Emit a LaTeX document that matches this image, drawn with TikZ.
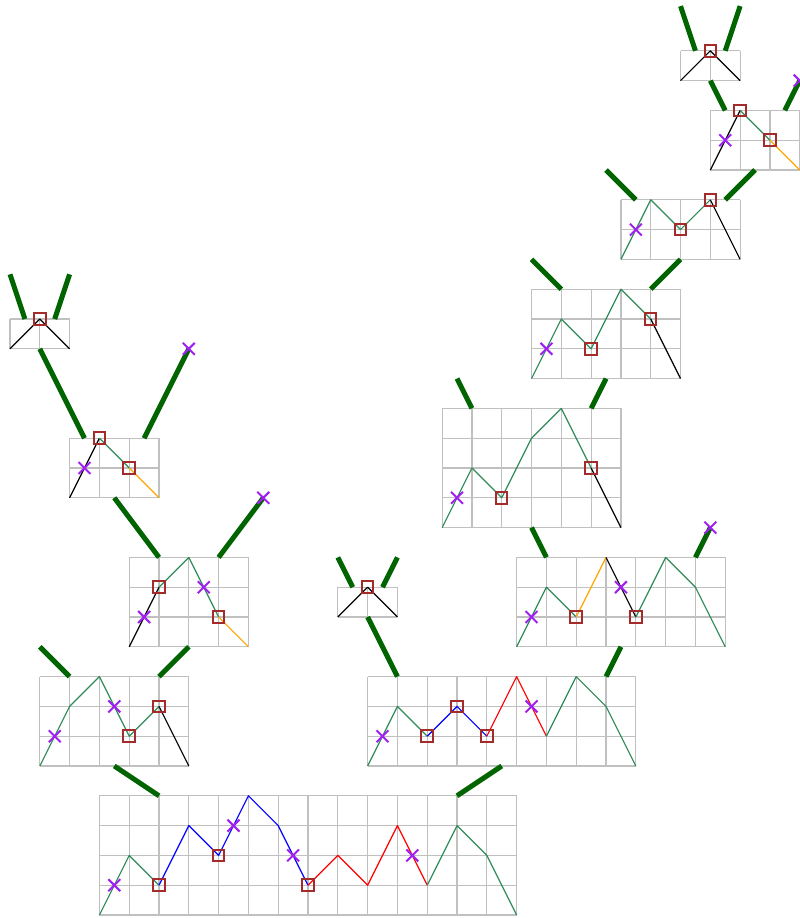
\documentclass[tikz,border=0pt]{standalone}
\definecolor{seag}{RGB}{46,139,87}
\definecolor{dkgreen}{RGB}{0,100,0}
\definecolor{brownbox}{RGB}{165,42,42}
\definecolor{purp}{RGB}{160,32,240}
\definecolor{gridgray}{RGB}{192,192,192}
\definecolor{orng}{RGB}{255,165,0}
\begin{document}
\begin{tikzpicture}[x=29.8pt,y=29.8pt,
  gridsty/.style={draw=gridgray,line width=1.2pt,step=1},
  pth/.style={line width=1.2pt,line join=round},
  gp/.style={pth,draw=seag},
  kp/.style={pth,draw=black},
  bp/.style={pth,draw=blue},
  rp/.style={pth,draw=red},
  op/.style={pth,draw=orng},
  treeedge/.style={draw=dkgreen,line width=5pt},
  boxsty/.style={draw=brownbox,line width=2pt,minimum size=11.5pt,inner sep=0pt},
  xmark/.pic={\draw[purp,line width=2pt] (-0.2,-0.2)--(0.2,0.2) (-0.2,0.2)--(0.2,-0.2);}
]
\useasboundingbox (-0.336,-0.1) rectangle (26.477,30.705);

% G1
\begin{scope}[shift={(3,0)}]
\draw[gridsty] (0,0) grid (14,4);
\draw[gp] (0,0)--(1,2)--(2,1);
\draw[bp] (2,1)--(3,3)--(4,2)--(5,4)--(6,3)--(7,1);
\draw[rp] (7,1)--(8,2)--(9,1)--(10,3)--(11,1);
\draw[gp] (11,1)--(12,3)--(13,2)--(14,0);
\end{scope}
% G2
\begin{scope}[shift={(1,5)}]
\draw[gridsty] (0,0) grid (5,3);
\draw[gp] (0,0)--(1,2)--(2,3)--(3,1)--(4,2);
\draw[kp] (4,2)--(5,0);
\end{scope}
% G3
\begin{scope}[shift={(12,5)}]
\draw[gridsty] (0,0) grid (9,3);
\draw[gp] (0,0)--(1,2)--(2,1);
\draw[bp] (2,1)--(3,2)--(4,1);
\draw[rp] (4,1)--(5,3)--(6,1);
\draw[gp] (6,1)--(7,3)--(8,2)--(9,0);
\end{scope}
% G4
\begin{scope}[shift={(11,10)}]
\draw[gridsty] (0,0) grid (2,1);
\draw[kp] (0,0)--(1,1)--(2,0);
\end{scope}
% G5
\begin{scope}[shift={(17,9)}]
\draw[gridsty] (0,0) grid (7,3);
\draw[gp] (0,0)--(1,2)--(2,1);
\draw[op] (2,1)--(3,3);
\draw[kp] (3,3)--(4,1);
\draw[gp] (4,1)--(5,3)--(6,2)--(7,0);
\end{scope}
% G6
\begin{scope}[shift={(14.5,13)}]
\draw[gridsty] (0,0) grid (6,4);
\draw[gp] (0,0)--(1,2)--(2,1)--(3,3)--(4,4)--(5,2);
\draw[kp] (5,2)--(6,0);
\end{scope}
% G7
\begin{scope}[shift={(17.5,18)}]
\draw[gridsty] (0,0) grid (5,3);
\draw[gp] (0,0)--(1,2)--(2,1)--(3,3)--(4,2);
\draw[kp] (4,2)--(5,0);
\end{scope}
% G8
\begin{scope}[shift={(20.5,22)}]
\draw[gridsty] (0,0) grid (4,2);
\draw[gp] (0,0)--(1,2)--(2,1)--(3,2);
\draw[kp] (3,2)--(4,0);
\end{scope}
% G9
\begin{scope}[shift={(23.5,25)}]
\draw[gridsty] (0,0) grid (3,2);
\draw[kp] (0,0)--(1,2);
\draw[gp] (1,2)--(2,1);
\draw[op] (2,1)--(3,0);
\end{scope}
% G10
\begin{scope}[shift={(22.5,28)}]
\draw[gridsty] (0,0) grid (2,1);
\draw[kp] (0,0)--(1,1)--(2,0);
\end{scope}
% G11
\begin{scope}[shift={(0,19)}]
\draw[gridsty] (0,0) grid (2,1);
\draw[kp] (0,0)--(1,1)--(2,0);
\end{scope}
% G12
\begin{scope}[shift={(2,14)}]
\draw[gridsty] (0,0) grid (3,2);
\draw[kp] (0,0)--(1,2);
\draw[gp] (1,2)--(2,1);
\draw[op] (2,1)--(3,0);
\end{scope}
% G13
\begin{scope}[shift={(4,9)}]
\draw[gridsty] (0,0) grid (4,3);
\draw[kp] (0,0)--(1,2);
\draw[gp] (1,2)--(2,3)--(3,1);
\draw[op] (3,1)--(4,0);
\end{scope}

% tree edges
\foreach \xa/\ya/\xb/\yb [count=\i] in {
  3.5/5/5/4, 16.5/5/15/4, 1/9/2/8, 6/9/5/8,
  12/10/13/8, 20.5/9/20/8, 11/12/11.5/11, 13/12/12.5/11,
  17.5/13/18/12, 23/12/23.5/13, 3.5/14/5/12, 7/12/8.5/14,
  1/19/2.5/16, 4.5/16/6/19, 0/21.5/0.5/20, 2/21.5/1.5/20,
  15/18/15.5/17, 20/18/19.5/17, 17.5/22/18.5/21, 22.5/22/21.5/21,
  20/25/21/24, 25/25/24/24, 23.5/28/24/27, 26/27/26.5/28,
  22.5/30.5/23/29, 24.5/30.5/24/29}
{
  \coordinate (s\i) at (\xa,\ya);
  \coordinate (t\i) at (\xb,\yb);
  \draw[treeedge] (s\i) -- (t\i);
}

% boxes
\foreach \bxx/\bxy [count=\i] in {5/1,7/2,10/1,4/6,5/7,14/6,15/7,16/6,12/11,
  19/10,21/10,16.5/14,19.5/15,19.5/19,21.5/20,22.5/23,23.5/24,
  24.5/27,25.5/26,23.5/29,1/20,3/16,4/15,5/11,7/10}
  \node[boxsty] (bx\i) at (\bxx,\bxy) {};

% crosses
\foreach \cxx/\cxy [count=\i] in {3.5/1,7.5/3,9.5/2,13.5/2,1.5/6,3.5/7,12.5/6,17.5/7,
  17.5/10,20.5/11,15/14,18/19,21/23,24/26,2.5/15,4.5/10,6.5/11,
  23.5/13,8.5/14,6/19,26.5/28}
  \pic (cx\i) at (\cxx,\cxy) {xmark};
\end{tikzpicture}
\end{document}
